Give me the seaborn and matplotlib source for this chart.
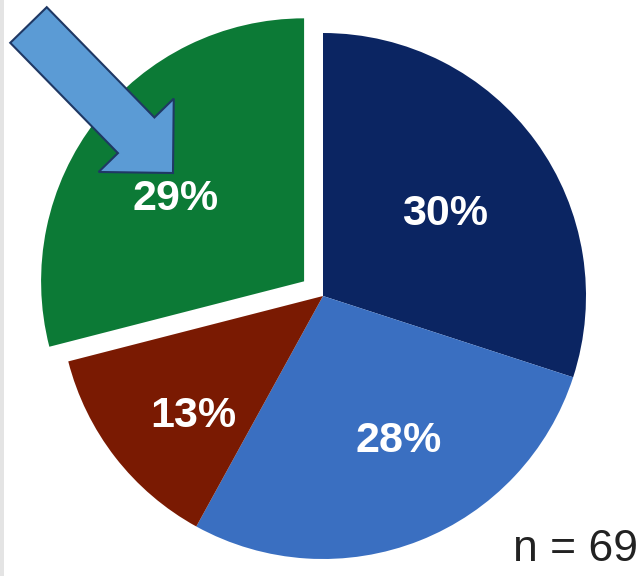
import numpy as np
import matplotlib
matplotlib.use("Agg")
import matplotlib.pyplot as plt
import seaborn as sns
from matplotlib.patches import FancyArrow, Rectangle

sns.set_theme(style="white")
plt.rcParams['font.family'] = ['Liberation Sans', 'DejaVu Sans']

# data
labels = ["30%", "28%", "13%", "29%"]
values = [30, 28, 13, 29]
colors = ["#0B2562", "#3A6FC1", "#7A1A02", "#0C7A36"]
n_text = "n = 69"

W, H = 641, 576
fig = plt.figure(figsize=(W / 100, H / 100), dpi=100)
ax = fig.add_axes([0, 0, 1, 1])

cx, cy, R = 323, 576 - 296, 263
explode = [0, 0, 0, 0.091 * R]   # pie's explode is in data units
wedges, _ = ax.pie(values, colors=colors, startangle=90, counterclock=False,
                   explode=explode, center=(cx, cy), radius=R,
                   wedgeprops=dict(linewidth=0), frame=True)
ax.set_xlim(0, W)
ax.set_ylim(0, H)
ax.set_aspect('equal')
ax.axis('off')

# label placement (distance fraction of radius, angle offset in degrees)
dist = [0.56, 0.62, 0.67, 0.58]
dang = [-2, 6, 5, 5]
for w, lab, d, da in zip(wedges, labels, dist, dang):
    ang = np.deg2rad((w.theta1 + w.theta2) / 2 + da)
    wx, wy = w.center
    ax.text(wx + d * R * np.cos(ang), wy + d * R * np.sin(ang), lab,
            ha='center', va='center', color='white', fontsize=31,
            fontweight='bold')

ax.text(638, 6, n_text, ha='right', va='bottom', fontsize=32, color='#222222')

# arrow annotation
arrow = FancyArrow(28.5, 576 - 25, 144.5, -148, width=51, head_width=105,
                   head_length=52.7, length_includes_head=True,
                   facecolor='#5B9BD5', edgecolor='#1F3864', linewidth=1.5,
                   zorder=5)
ax.add_patch(arrow)

# left gray border
fig.patches.append(Rectangle((0, 0), 4 / W, 1, transform=fig.transFigure,
                             facecolor='#E4E4E4', edgecolor='none'))

fig.savefig("out.png", dpi=100, facecolor='white')
